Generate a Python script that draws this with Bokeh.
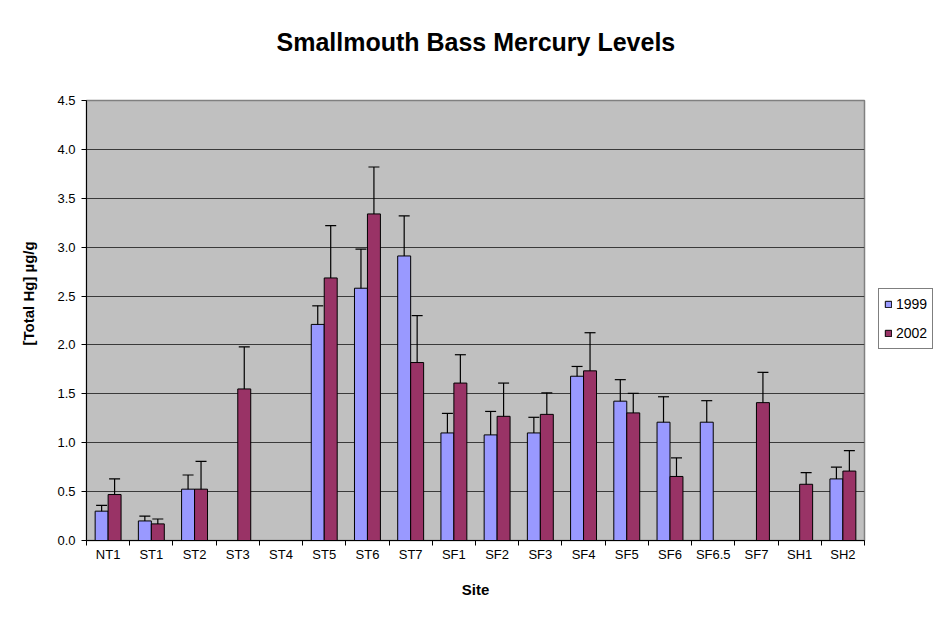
import numpy as np
from bokeh.plotting import figure
from bokeh.models import (ColumnDataSource, Whisker, TeeHead, FixedTicker, NumeralTickFormatter,
                          Range1d, Legend, LegendItem, CustomJSTickFormatter, Title)
from bokeh.embed import file_html
from bokeh.resources import INLINE

sites = ["NT1", "ST1", "ST2", "ST3", "ST4", "ST5", "ST6", "ST7", "SF1", "SF2", "SF3",
         "SF4", "SF5", "SF6", "SF6.5", "SF7", "SH1", "SH2"]
hg_1999 = [0.30, 0.20, 0.525, None, None, 2.21, 2.58, 2.91, 1.10, 1.08, 1.10,
           1.68, 1.425, 1.21, 1.21, None, None, 0.63]
err_1999 = [0.06, 0.05, 0.145, None, None, 0.19, 0.40, 0.41, 0.20, 0.24, 0.16,
            0.10, 0.22, 0.26, 0.22, None, None, 0.12]
hg_2002 = [0.47, 0.17, 0.525, 1.55, None, 2.685, 3.34, 1.82, 1.61, 1.27, 1.29,
           1.735, 1.305, 0.655, None, 1.41, 0.575, 0.71]
err_2002 = [0.16, 0.05, 0.285, 0.43, None, 0.535, 0.48, 0.48, 0.29, 0.34, 0.22,
            0.39, 0.20, 0.19, None, 0.31, 0.12, 0.21]
y_ticks = [0.0, 0.5, 1.0, 1.5, 2.0, 2.5, 3.0, 3.5, 4.0, 4.5]

FONT = "Liberation Sans"


def make_source(vals, errs, offset):
    xs, tops, lo, hi = [], [], [], []
    for i, (v, e) in enumerate(zip(vals, errs)):
        if v is None:
            continue
        xs.append(i + 0.5 + offset)
        tops.append(v)
        lo.append(v - e)
        hi.append(v + e)
    return ColumnDataSource(dict(x=xs, top=tops, lower=lo, upper=hi))


p = figure(frame_width=778, frame_height=440, output_backend="svg", toolbar_location=None,
           x_range=Range1d(0, len(sites)), y_range=Range1d(0, 4.5),
           min_border_left=86, min_border_right=77, min_border_top=100, min_border_bottom=77)

p.background_fill_color = "#C0C0C0"
p.border_fill_color = "white"
p.outline_line_color = "#808080"
p.outline_line_width = 1.5

p.title.text = "Smallmouth Bass Mercury Levels"
p.title.align = "left"
p.title.offset = 190
p.title.text_font = FONT
p.title.text_font_size = "25px"
p.title.text_font_style = "bold"
p.title.text_color = "black"
p.title.standoff = 50

# empty spacer between the title and the plot area
p.add_layout(Title(text=" ", text_font_size="1px", standoff=17), "above")

s99 = make_source(hg_1999, err_1999, -0.15)
s02 = make_source(hg_2002, err_2002, 0.15)

r99 = p.vbar(x="x", top="top", width=0.3, source=s99, fill_color="#9999FF",
             line_color="black", line_width=1)
r02 = p.vbar(x="x", top="top", width=0.3, source=s02, fill_color="#993366",
             line_color="black", line_width=1)

for src in (s99, s02):
    w = Whisker(base="x", lower="lower", upper="upper", source=src,
                line_color="black", line_width=1.2,
                upper_head=TeeHead(size=11, line_color="black", line_width=1.2),
                lower_head=TeeHead(size=11, line_color="black", line_width=1.2))
    p.add_layout(w)

# grid
p.xgrid.visible = False
p.ygrid.ticker = FixedTicker(ticks=y_ticks[1:-1])
p.ygrid.grid_line_color = "#3a3a3a"
p.ygrid.grid_line_width = 1.2

# x axis: labels at centers, tick marks at boundaries
xa = p.xaxis[0]
xa.ticker = FixedTicker(ticks=[i + 0.5 for i in range(len(sites))],
                        minor_ticks=list(range(len(sites) + 1)))
xa.formatter = CustomJSTickFormatter(args=dict(sites=sites),
                                     code="return sites[Math.floor(tick)];")
xa.major_tick_line_color = None
xa.minor_tick_line_color = "black"
xa.minor_tick_out = 5
xa.minor_tick_in = 0
xa.axis_line_color = "black"
xa.major_label_text_font = FONT
xa.major_label_text_font_size = "13px"
xa.major_label_text_color = "black"
xa.major_label_standoff = 0
xa.axis_label = "Site"
xa.axis_label_text_font = FONT
xa.axis_label_text_font_size = "15px"
xa.axis_label_text_font_style = "bold"
xa.axis_label_text_color = "black"
xa.axis_label_standoff = 16

ya = p.yaxis[0]
ya.ticker = FixedTicker(ticks=y_ticks)
ya.formatter = NumeralTickFormatter(format="0.0")
ya.minor_tick_line_color = None
ya.major_tick_out = 5
ya.major_tick_in = 0
ya.major_tick_line_color = "black"
ya.axis_line_color = "black"
ya.major_label_text_font = FONT
ya.major_label_text_font_size = "13px"
ya.major_label_text_color = "black"
ya.major_label_standoff = 6

ylab = Title(text="[Total Hg] µg/g", align="left", offset=195, standoff=35,
             text_font=FONT, text_font_size="15px", text_font_style="bold",
             text_color="black")
p.add_layout(ylab, "left")

legend = Legend(items=[LegendItem(label="1999", renderers=[r99]),
                       LegendItem(label="2002", renderers=[r02])],
                location=(14, 191))
legend.border_line_color = "black"
legend.border_line_width = 1
legend.background_fill_color = "white"
legend.padding = 5
legend.spacing = 9
legend.margin = 0
legend.glyph_width = 8
legend.glyph_height = 8
legend.label_height = 20
legend.label_width = 20
legend.label_standoff = 4
legend.label_text_font = FONT
legend.label_text_font_size = "14px"
legend.label_text_color = "black"
p.add_layout(legend, "right")

open("out.html", "w").write(file_html(p, INLINE))
